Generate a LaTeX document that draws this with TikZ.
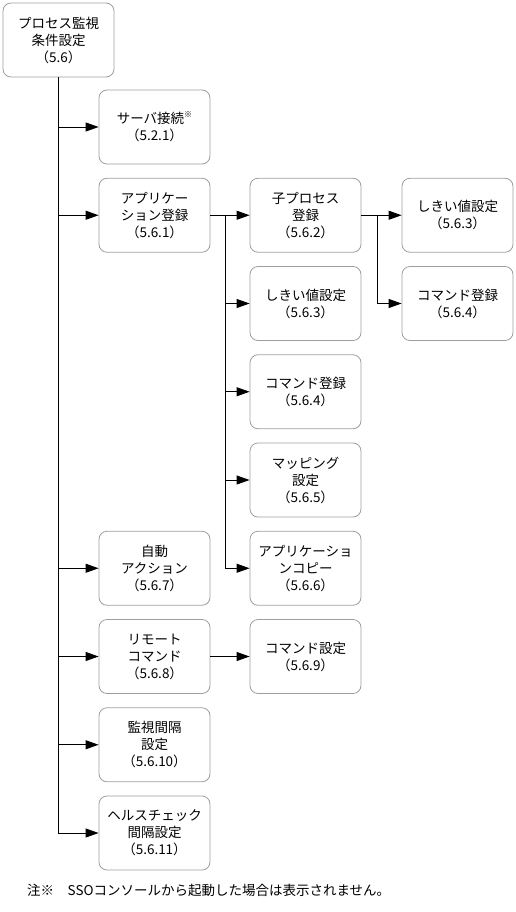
\documentclass[tikz,border=0pt]{standalone}
\usepackage{fontspec}
\setmainfont{Noto Sans CJK JP}
\usetikzlibrary{arrows.meta}
\begin{document}
\begin{tikzpicture}[x=1pt,y=-1pt,
  box/.style={draw=black!38, rounded corners=8pt, minimum width=111pt, minimum height=74pt,
    align=center, inner sep=0pt, font=\fontsize{13.5}{17}\selectfont, line width=0.8pt},
  conn/.style={line width=0.9pt, draw=black},
  arr/.style={conn, -{Triangle[length=13pt,width=9pt]}}]
\useasboundingbox (0,0) rectangle (516,912);
% root
\node[box] (root) at (58.5,40) {プロセス監視\\条件設定\\（5.6）};
% column 1
\node[box] (server) at (154.5,127) {サーバ接続\raisebox{0.45em}{\fontsize{8}{8}\selectfont ※}\\（5.2.1）};
\node[box] (app) at (154.5,215.25) {アプリケー\\ション登録\\（5.6.1）};
\node[box] (auto) at (154.5,568.25) {自動\\アクション\\（5.6.7）};
\node[box] (remote) at (154.5,656.5) {リモート\\コマンド\\（5.6.8）};
\node[box] (interval) at (154.5,744.75) {監視間隔\\設定\\（5.6.10）};
\node[box] (health) at (154.5,833) {ヘルスチェック\\間隔設定\\（5.6.11）};
% column 2
\node[box] (child) at (305.5,215.25) {子プロセス\\登録\\（5.6.2）};
\node[box] (thr) at (305.5,303.5) {しきい値設定\\（5.6.3）};
\node[box] (cmd) at (305.5,391.75) {コマンド登録\\（5.6.4）};
\node[box] (map) at (305.5,480) {マッピング\\設定\\（5.6.5）};
\node[box] (copy) at (305.5,568.25) {アプリケーショ\\ンコピー\\（5.6.6）};
\node[box] (cmdset) at (305.5,656.5) {コマンド設定\\（5.6.9）};
% column 3
\node[box] (cthr) at (457.5,215.25) {しきい値設定\\（5.6.3）};
\node[box] (ccmd) at (457.5,303.5) {コマンド登録\\（5.6.4）};
% footnote
\node[anchor=west, inner sep=0pt, font=\fontsize{13.5}{17}\selectfont] (note) at (27,890) {注※　SSOコンソールから起動した場合は表示されません。};
% trunk
\draw[arr] (root.south) |- (health.west);
\foreach \n in {server,app,auto,remote,interval}
  \draw[arr] (root.south |- \n.west) -- (\n.west);
% application branch
\coordinate (b1) at (225,215.25);
\draw[arr] (app.east) -- (child.west);
\draw[arr] (b1) |- (copy.west);
\foreach \n in {thr,cmd,map}
  \draw[arr] (b1 |- \n.west) -- (\n.west);
% child process branch
\coordinate (b2) at (377,215.25);
\draw[arr] (child.east) -- (cthr.west);
\draw[arr] (b2) |- (ccmd.west);
% remote command
\draw[arr] (remote.east) -- (cmdset.west);
\end{tikzpicture}
\end{document}
